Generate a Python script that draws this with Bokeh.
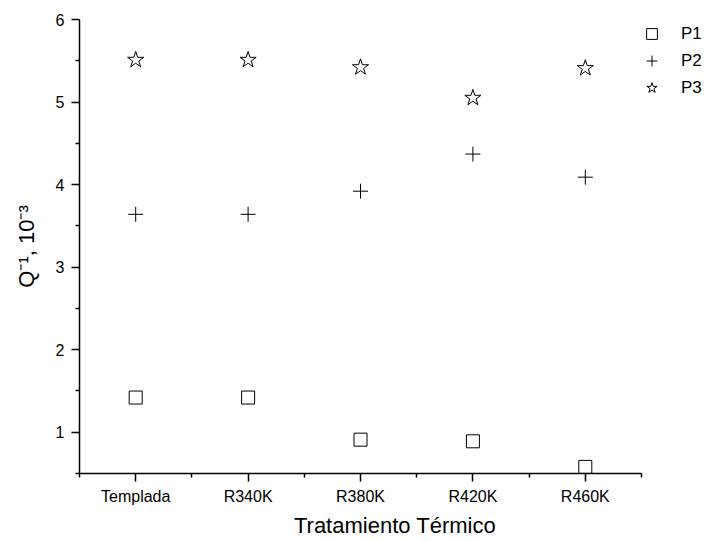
from bokeh.plotting import figure
from bokeh.models import Range1d, FixedTicker, Legend, LegendItem, ColumnDataSource
from bokeh.embed import file_html
from bokeh.resources import INLINE

categories = ["Templada", "R340K", "R380K", "R420K", "R460K"]
p1_values = [1.42, 1.42, 0.91, 0.89, 0.58]
p2_values = [3.64, 3.64, 3.92, 4.37, 4.09]
p3_values = [5.51, 5.51, 5.42, 5.05, 5.41]
y_major_ticks = [1, 2, 3, 4, 5, 6]
y_minor_ticks = [0.5, 1.5, 2.5, 3.5, 4.5, 5.5]

xpos = list(range(1, len(categories) + 1))
src = ColumnDataSource(dict(x=xpos, p1=p1_values, p2=p2_values, p3=p3_values))

FONT = "Liberation Sans"

# frame spans to the right edge so the legend (drawn in the frame) is not clipped;
# the x axis line itself is bounded to the category span
x_lo = 0.5
x_hi = len(categories) + 0.5
px_per_unit = (641 - 79) / (x_hi - x_lo)
x_end = x_hi + (710 - 641) / px_per_unit

p = figure(width=710, height=541, output_backend="svg", toolbar_location=None,
           x_range=Range1d(x_lo, x_end), y_range=Range1d(0.5, 6),
           min_border_left=79, min_border_right=0, min_border_top=19, min_border_bottom=68)
p.outline_line_color = None
p.xgrid.visible = False
p.ygrid.visible = False
p.background_fill_color = "white"
p.border_fill_color = "white"

r1 = p.scatter("x", "p1", source=src, marker="square", size=13, fill_color=None,
               line_color="black", line_width=1)
r2 = p.scatter("x", "p2", source=src, marker="cross", size=15,
               line_color="black", line_width=1)
r3 = p.scatter("x", "p3", source=src, marker="star", size=17, fill_color=None,
               line_color="black", line_width=1)

xminor = [i + 0.5 for i in range(0, len(categories) + 1)]
p.xaxis.ticker = FixedTicker(ticks=xpos, minor_ticks=xminor)
p.xaxis.major_label_overrides = {i: c for i, c in zip(xpos, categories)}
p.xaxis.bounds = (x_lo, x_hi)
p.yaxis.ticker = FixedTicker(ticks=y_major_ticks, minor_ticks=y_minor_ticks)

for ax in (p.xaxis[0], p.yaxis[0]):
    ax.axis_line_width = 1.5
    ax.axis_line_color = "black"
    ax.major_tick_line_width = 1.5
    ax.minor_tick_line_width = 1.5
    ax.major_tick_line_color = "black"
    ax.minor_tick_line_color = "black"
    ax.major_tick_in = 0
    ax.major_tick_out = 8
    ax.minor_tick_in = 0
    ax.minor_tick_out = 4
    ax.major_label_text_font = FONT
    ax.major_label_text_font_size = "16px"
    ax.major_label_text_color = "black"
    ax.axis_label_text_font = FONT
    ax.axis_label_text_font_size = "22px"
    ax.axis_label_text_font_style = "normal"
    ax.axis_label_text_color = "black"

p.xaxis.major_label_standoff = 6
p.yaxis.major_label_standoff = 7
p.xaxis.axis_label = "Tratamiento Térmico"
p.yaxis.axis_label = "Q⁻¹, 10⁻³"
p.xaxis.axis_label_standoff = 5
p.yaxis.axis_label_standoff = 14

legend = Legend(items=[LegendItem(label="P1", renderers=[r1]),
                       LegendItem(label="P2", renderers=[r2]),
                       LegendItem(label="P3", renderers=[r3])],
                location=(559, 372), orientation="vertical")
legend.border_line_color = None
legend.background_fill_alpha = 0
legend.padding = 0
legend.margin = 0
legend.spacing = 0
legend.glyph_width = 27
legend.glyph_height = 27
legend.label_height = 27
legend.label_standoff = 16
legend.label_text_font = FONT
legend.label_text_font_size = "17px"
legend.label_text_color = "black"
p.add_layout(legend, "center")

open("out.html", "w").write(file_html(p, INLINE))
